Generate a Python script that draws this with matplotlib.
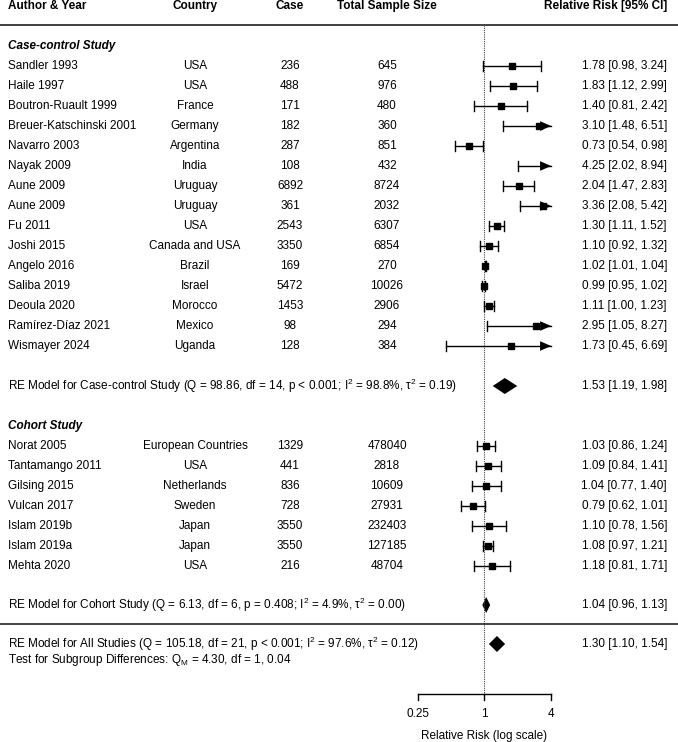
import matplotlib
matplotlib.use("Agg")
import matplotlib.pyplot as plt
import matplotlib.transforms as mtransforms
import numpy as np

# ---------------- data ----------------
authors_cc = ["Sandler 1993", "Haile 1997", "Boutron-Ruault 1999", "Breuer-Katschinski 2001",
              "Navarro 2003", "Nayak 2009", "Aune 2009", "Aune 2009", "Fu 2011", "Joshi 2015",
              "Angelo 2016", "Saliba 2019", "Deoula 2020", "Ramírez-Díaz 2021", "Wismayer 2024"]
country_cc = ["USA", "USA", "France", "Germany", "Argentina", "India", "Uruguay", "Uruguay", "USA",
              "Canada and USA", "Brazil", "Israel", "Morocco", "Mexico", "Uganda"]
case_cc = [236, 488, 171, 182, 287, 108, 6892, 361, 2543, 3350, 169, 5472, 1453, 98, 128]
total_cc = [645, 976, 480, 360, 851, 432, 8724, 2032, 6307, 6854, 270, 10026, 2906, 294, 384]
rr_cc = [1.78, 1.83, 1.40, 3.10, 0.73, 4.25, 2.04, 3.36, 1.30, 1.10, 1.02, 0.99, 1.11, 2.95, 1.73]
lo_cc = [0.98, 1.12, 0.81, 1.48, 0.54, 2.02, 1.47, 2.08, 1.11, 0.92, 1.01, 0.95, 1.00, 1.05, 0.45]
hi_cc = [3.24, 2.99, 2.42, 6.51, 0.98, 8.94, 2.83, 5.42, 1.52, 1.32, 1.04, 1.02, 1.23, 8.27, 6.69]

authors_co = ["Norat 2005", "Tantamango 2011", "Gilsing 2015", "Vulcan 2017",
              "Islam 2019b", "Islam 2019a", "Mehta 2020"]
country_co = ["European Countries", "USA", "Netherlands", "Sweden", "Japan", "Japan", "USA"]
case_co = [1329, 441, 836, 728, 3550, 3550, 216]
total_co = [478040, 2818, 10609, 27931, 232403, 127185, 48704]
rr_co = [1.03, 1.09, 1.04, 0.79, 1.10, 1.08, 1.18]
lo_co = [0.86, 0.84, 0.77, 0.62, 0.78, 0.97, 0.81]
hi_co = [1.24, 1.41, 1.40, 1.01, 1.56, 1.21, 1.71]

pooled_cc = (1.53, 1.19, 1.98)
pooled_co = (1.04, 0.96, 1.13)
pooled_all = (1.30, 1.10, 1.54)

re_cc_text = r"RE Model for Case-control Study (Q = 98.86, df = 14, p < 0.001; $\mathregular{I^2}$ = 98.8%, $\mathregular{\tau^2}$ = 0.19)"
re_co_text = r"RE Model for Cohort Study (Q = 6.13, df = 6, p = 0.408; $\mathregular{I^2}$ = 4.9%, $\mathregular{\tau^2}$ = 0.00)"
re_all_text = r"RE Model for All Studies (Q = 105.18, df = 21, p < 0.001; $\mathregular{I^2}$ = 97.6%, $\mathregular{\tau^2}$ = 0.12)"
test_text = r"Test for Subgroup Differences: $\mathregular{Q_M}$ = 4.30, df = 1, 0.04"

ticks = [0.25, 1, 4]
tick_labels = ["0.25", "1", "4"]
alim = (0.25, 4)

# ---------------- layout ----------------
W, H = 678, 742
plt.rcParams['font.family'] = ['Liberation Sans', 'DejaVu Sans']
plt.rcParams['mathtext.fontset'] = 'custom'
plt.rcParams['mathtext.rm'] = 'Liberation Sans'
plt.rcParams['mathtext.it'] = 'Liberation Sans:italic'
plt.rcParams['mathtext.bf'] = 'Liberation Sans:bold'
FS = 8.5

fig = plt.figure(figsize=(W / 100, H / 100), dpi=100)
ax = fig.add_axes([0, 0, 1, 1])
ax.set_xscale('log', base=2)
x0, ppu = 484.3, 33.4  # pixel of RR=1, pixels per log2 unit
ax.set_xlim(2 ** (-x0 / ppu), 2 ** ((W - x0) / ppu))
ax.set_ylim(H, 0)
ax.axis('off')

tr = mtransforms.blended_transform_factory(ax.transAxes, ax.transData)


def txt(xp, y, s, ha='left', **kw):
    ax.text(xp / W, y, s, transform=tr, ha=ha, va='center', fontsize=FS, **kw)


def fmt(r, l, h):
    return f"{r:.2f} [{l:.2f}, {h:.2f}]"


cap = 5
arrow_half = 4.8
arrow_len = 11 / ppu


def study(y, r, l, h):
    left = max(l, alim[0])
    right = min(h, alim[1])
    ax.plot([left, right], [y, y], color='black', lw=1)
    if l >= alim[0]:
        ax.plot([l, l], [y - cap, y + cap], color='black', lw=1)
    if h <= alim[1]:
        ax.plot([h, h], [y - cap, y + cap], color='black', lw=1)
    else:
        base = alim[1] * 2 ** (-arrow_len)
        ax.fill([base, alim[1], base], [y - arrow_half, y, y + arrow_half], color='black', lw=0)
    if alim[0] <= r <= alim[1]:
        ax.plot([r], [y], marker='s', color='black', markersize=4.0, lw=0)


def diamond(y, est, l, h, half=8):
    ax.fill([l, est, h, est], [y, y - half, y, y + half], color='black', lw=0)


# header
yh = 6
txt(8, yh, "Author & Year", weight='bold')
txt(195, yh, "Country", ha='center', weight='bold')
txt(290, yh, "Case", ha='center', weight='bold')
txt(387, yh, "Total Sample Size", ha='center', weight='bold')
txt(667, yh, "Relative Risk [95% CI]", ha='right', weight='bold')
ax.plot([0, 1], [25, 25], transform=tr, color='#222222', lw=1.2)

# reference line
ax.plot([1, 1], [25, 694], color='#444444', lw=0.8, linestyle=(0, (1, 1)))


def group(y_first, authors, countries, cases, totals, rr, lo, hi):
    for i in range(len(authors)):
        y = y_first + 20 * i
        txt(8, y, authors[i])
        txt(195, y, countries[i], ha='center')
        txt(290, y, str(cases[i]), ha='center')
        txt(387, y, str(totals[i]), ha='center')
        txt(667, y, fmt(rr[i], lo[i], hi[i]), ha='right')
        study(y, rr[i], lo[i], hi[i])


txt(8, 46, "Case-control Study", weight='bold', style='italic')
group(66, authors_cc, country_cc, case_cc, total_cc, rr_cc, lo_cc, hi_cc)
txt(8, 386, re_cc_text)
diamond(386, *pooled_cc)
txt(667, 386, fmt(*pooled_cc), ha='right')

txt(8, 426, "Cohort Study", weight='bold', style='italic')
group(446, authors_co, country_co, case_co, total_co, rr_co, lo_co, hi_co)
txt(8, 605, re_co_text)
diamond(605, *pooled_co)
txt(667, 605, fmt(*pooled_co), ha='right')

ax.plot([0, 1], [624, 624], transform=tr, color='#222222', lw=1.2)

txt(8, 644, re_all_text)
diamond(644, *pooled_all)
txt(667, 644, fmt(*pooled_all), ha='right')
txt(8, 660, test_text)

# x axis
ya = 694
ax.plot([alim[0], alim[1]], [ya, ya], color='black', lw=1)
for t, lab in zip(ticks, tick_labels):
    ax.plot([t, t], [ya, ya + 6], color='black', lw=1)
    ax.text(t, 714, lab, ha='center', va='center', fontsize=FS)
ax.text(1, 736, "Relative Risk (log scale)", ha='center', va='center', fontsize=FS)

fig.savefig("out.png", dpi=100)
